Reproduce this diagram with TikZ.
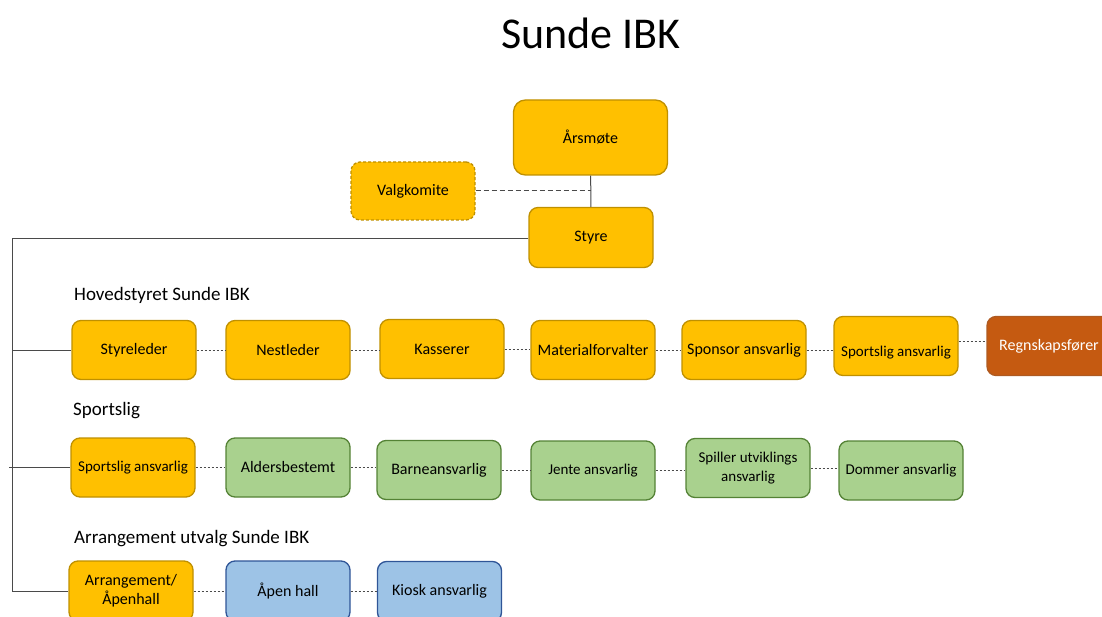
\documentclass[tikz,border=0pt]{standalone}
\usepackage{fontspec}
\setmainfont{Carlito}
\usetikzlibrary{positioning}
\definecolor{fillyellow}{HTML}{FFC000}
\definecolor{edgeyellow}{HTML}{BF9000}
\definecolor{fillgreen}{HTML}{A9D18E}
\definecolor{edgegreen}{HTML}{548235}
\definecolor{fillblue}{HTML}{9DC3E6}
\definecolor{edgeblue}{HTML}{2F5597}
\definecolor{fillrust}{HTML}{C55A11}
\definecolor{edgerust}{HTML}{AE5A21}
\definecolor{wirecol}{HTML}{4A4A4A}
\tikzset{
  unit/.style={rounded corners=9pt, line width=1.3pt, minimum width=124pt, minimum height=59pt,
               inner sep=2pt, align=center, font=\fontsize{16}{19.2}\selectfont},
  smalltext/.style={font=\fontsize{15}{19.5}\selectfont},
  yellowunit/.style={unit, fill=fillyellow, draw=edgeyellow},
  greenunit/.style={unit, fill=fillgreen, draw=edgegreen},
  blueunit/.style={unit, fill=fillblue, draw=edgeblue},
  rustunit/.style={unit, fill=fillrust, draw=edgerust, text=white},
  heading/.style={anchor=west, inner sep=0pt, font=\fontsize{19}{23}\selectfont},
  wire/.style={draw=wirecol, line width=1pt},
  link/.style={draw=wirecol, line width=0.8pt, dash pattern=on 2.5pt off 1.5pt},
  electlink/.style={draw=wirecol, line width=1pt, dash pattern=on 5pt off 3pt}
}
\begin{document}
\begin{tikzpicture}[x=1pt,y=-1pt]
  \useasboundingbox (0,0) rectangle (1102,617);
  \node[font=\fontsize{44}{50}\selectfont] (title) at (591,33) {Sunde IBK}; % title
  % top
  \node[yellowunit, minimum width=154pt, minimum height=75pt, rounded corners=12pt] (aarsmote) at (590.5,137.5) {Årsmøte}; % annual meeting
  \node[yellowunit, dash pattern=on 3pt off 2pt, minimum height=58pt] (valgkomite) at (413,191) {Valgkomite}; % election committee
  \node[yellowunit, minimum height=60pt] (styre) at (591,237.5) {Styre}; % board
  \draw[wire] (aarsmote) -- (styre); % Wiring
  \coordinate (valgpunkt) at (aarsmote.south |- valgkomite.east);
  \draw[electlink] (valgkomite.east) -- (valgpunkt); % Wiring
  % headings
  \node[heading] (hovedstyret) at (74,295) {Hovedstyret Sunde IBK}; % row 1 label
  \node[heading] (sportslig) at (73,411) {Sportslig}; % row 2 label
  \node[heading] (arrutvalg) at (74,539) {Arrangement utvalg Sunde IBK}; % row 3 label
  % row 1
  \node[yellowunit] (styreleder) at (134,350) {Styreleder};
  \node[yellowunit] (nestleder) at (288,350) {Nestleder};
  \node[yellowunit] (kasserer) at (442,349) {Kasserer};
  \node[yellowunit] (material) at (593,350) {Materialforvalter};
  \node[yellowunit] (sponsor) at (744,350) {Sponsor ansvarlig};
  \node[yellowunit, smalltext] (sportsligA) at (896,346) {\raisebox{-10pt}[0pt][0pt]{Sportslig ansvarlig}};
  \node[rustunit] (regnskap) at (1049,346) {Regnskapsfører};
  % row 2
  \node[yellowunit, smalltext] (sportsligB) at (133,467.5) {Sportslig ansvarlig};
  \node[greenunit] (alders) at (288,467.5) {Aldersbestemt};
  \node[greenunit] (barne) at (439,470) {Barneansvarlig};
  \node[greenunit, smalltext] (jente) at (593,470.5) {Jente ansvarlig};
  \node[greenunit, smalltext] (spiller) at (748,468) {Spiller utviklings\\ansvarlig};
  \node[greenunit, smalltext] (dommer) at (901,470.5) {Dommer ansvarlig};
  % row 3
  \node[yellowunit, minimum height=60pt] (arrangement) at (131,591) {Arrangement/\\Åpenhall};
  \node[blueunit, minimum height=60pt] (aapenhall) at (288,591) {Åpen hall};
  \node[blueunit, minimum height=60pt] (kiosk) at (439.5,591.5) {Kiosk ansvarlig};
  % dashed links
  \foreach \a/\b in {styreleder/nestleder, nestleder/kasserer, kasserer/material, material/sponsor,
                     sponsor/sportsligA, sportsligB/alders, alders/barne, barne/jente,
                     jente/spiller, spiller/dommer, arrangement/aapenhall, aapenhall/kiosk}
    \draw[link] (\a.east) -- (\a.east -| \b.west);
  \draw[link] ([yshift=5pt]sportsligA.east) -- ([yshift=5pt]regnskap.west); % Wiring
  % trunk
  \coordinate (trunktop) at (12,239);
  \coordinate (trunkbot) at (trunktop |- arrangement.west);
  \draw[wire] (styre.west |- trunktop) -- (trunktop) -- (trunkbot) -- (arrangement.west); % trunk
  \draw[wire] (styreleder.west -| trunktop) -- (styreleder.west); % Wiring
  \draw[wire] ([xshift=-3pt]sportsligB.west -| trunktop) -- (sportsligB.west); % Wiring
\end{tikzpicture}
\end{document}
